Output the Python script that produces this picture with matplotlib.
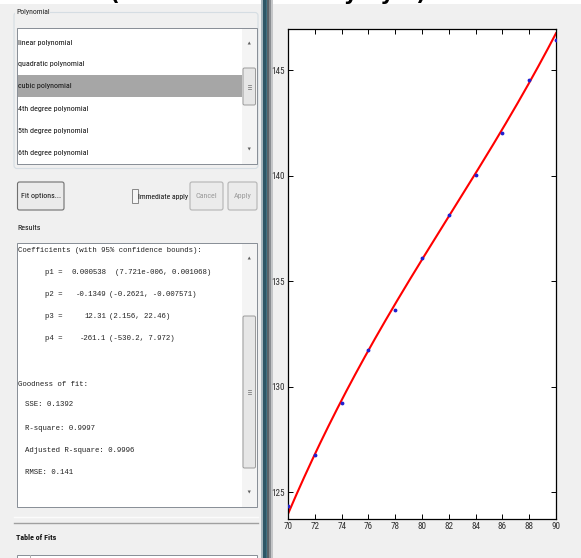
import os
import numpy as np
import matplotlib
matplotlib.use("Agg")
import matplotlib.pyplot as plt
from matplotlib.patches import Rectangle, FancyBboxPatch, Polygon
from matplotlib.font_manager import FontProperties, fontManager

# ---------------- data ----------------
years = [70, 72, 74, 76, 78, 80, 82, 84, 86, 88, 90]
values = [124.35, 126.77, 129.20, 131.72, 133.62, 136.10, 138.14, 140.02, 142.04, 144.53, 146.42]
fit_x = [70, 72, 74, 76, 78, 80, 82, 84, 86, 88, 90]
fit_y = [124.0, 126.75, 129.3, 131.75, 133.85, 136.12, 138.15, 140.05, 142.1, 144.45, 146.76]
x_ticks = [70, 72, 74, 76, 78, 80, 82, 84, 86, 88, 90]
y_ticks = [125, 130, 135, 140, 145]

fit_types = ["linear polynomial", "quadratic polynomial", "cubic polynomial",
             "4th degree polynomial", "5th degree polynomial", "6th degree polynomial"]
selected_fit = "cubic polynomial"
coef_header = "Coefficients (with 95% confidence bounds):"
coef_names = ["p1 =", "p2 =", "p3 =", "p4 ="]
coef_values = ["0.000538", "-0.1349", "12.31", "-261.1"]
coef_bounds = ["(7.721e-006, 0.001068)", "(-0.2621, -0.007571)", "(2.156, 22.46)", "(-530.2, 7.972)"]
gof_header = "Goodness of fit:"
gof_lines = ["SSE: 0.1392", "R-square: 0.9997", "Adjusted R-square: 0.9996", "RMSE: 0.141"]

# ---------------- fonts ----------------
_files = [f.fname for f in fontManager.ttflist]

def pick(names):
    for n in names:
        for fn in _files:
            if os.path.basename(fn).lower() == n.lower():
                return fn
    return None

ui_path = pick(["LiberationSansNarrow-Regular.ttf", "NotoSans-ExtraCondensed.ttf",
                "NotoSans-Condensed.ttf", "RobotoCondensed-Regular.ttf",
                "DejaVuSansCondensed.ttf", "NotoSans-SemiCondensed.ttf"])
ui_bold_path = pick(["LiberationSansNarrow-Bold.ttf", "NotoSans-ExtraCondensedBold.ttf",
                     "NotoSans-CondensedBold.ttf", "RobotoCondensed-Bold.ttf",
                     "DejaVuSansCondensed-Bold.ttf"])
mono_path = pick(["NotoSansMono-ExtraCondensed.ttf", "NotoSansMono-Condensed.ttf",
                  "NotoSansMono-SemiCondensed.ttf", "LiberationMono-Regular.ttf",
                  "DejaVuSansMono.ttf"])

def make_fp(path, size, fallback_family="DejaVu Sans", bold=False):
    if path:
        fp = FontProperties(fname=path)
    else:
        fp = FontProperties(family=fallback_family, weight="bold" if bold else "normal")
    fp.set_size(size)
    return fp

W, H = 581, 558
fig = plt.figure(figsize=(W / 100, H / 100), dpi=100)
fig.patch.set_facecolor("#f0f0f0")
renderer = fig.canvas.get_renderer()

def width_at(fp, s, size):
    f2 = fp.copy()
    f2.set_size(size)
    t = fig.text(0, 0, s, fontproperties=f2)
    w = t.get_window_extent(renderer).width
    t.remove()
    return w

def fit_size(fp, s, target_w, lo, hi):
    w = width_at(fp, s, 10.0)
    return float(np.clip(10.0 * target_w / w, lo, hi))

UI = make_fp(ui_path, 10)
UIB = make_fp(ui_bold_path, 10, bold=True)
MONO = make_fp(mono_path, 10, fallback_family="DejaVu Sans Mono")

ui_size = fit_size(UI, "4th degree polynomial", 61, 5.8, 7.6)
mono_size = fit_size(MONO, coef_header, 172, 5.3, 7.2)

def sized(fp, size):
    f2 = fp.copy()
    f2.set_size(size)
    return f2

bg = fig.add_axes([0, 0, 1, 1])
bg.set_xlim(0, W)
bg.set_ylim(H, 0)
bg.axis("off")

def rect(x0, y0, x1, y1, fc, ec="none", lw=0.72, z=1):
    bg.add_patch(Rectangle((x0, y0), x1 - x0, y1 - y0, facecolor=fc, edgecolor=ec, linewidth=lw, zorder=z))

def button(x0, y0, x1, y1, ec):
    bg.add_patch(FancyBboxPatch((x0, y0), x1 - x0, y1 - y0,
                                boxstyle="round,pad=0,rounding_size=2",
                                facecolor="#ebebeb", edgecolor=ec, linewidth=0.8, zorder=2))

def scrollbar(x0, x1, y0, y1, ty0, ty1):
    rect(x0, y0, x1, y1, "#f4f4f4", z=2)
    cx = (x0 + x1) / 2
    bg.add_patch(Polygon([[cx - 1.6, y0 + 16], [cx + 1.6, y0 + 16], [cx, y0 + 13]], closed=True,
                         facecolor="#606060", edgecolor="none", zorder=3))
    bg.add_patch(Polygon([[cx - 1.6, y1 - 16], [cx + 1.6, y1 - 16], [cx, y1 - 13]], closed=True,
                         facecolor="#606060", edgecolor="none", zorder=3))
    bg.add_patch(FancyBboxPatch((x0 + 1, ty0), x1 - x0 - 2, ty1 - ty0,
                                boxstyle="round,pad=0,rounding_size=1.5",
                                facecolor="#e6e6e6", edgecolor="#9a9a9a", linewidth=0.7, zorder=3))
    cy = (ty0 + ty1) / 2
    for d in (-2, 0, 2):
        bg.plot([cx - 1.5, cx + 1.5], [cy + d, cy + d], color="#808080", lw=0.6, zorder=4)

def label(x, y, s, target_w=None, color="#111111", ha="left", bold=False):
    base = UIB if bold else UI
    size = ui_size
    if target_w is not None:
        size = min(ui_size, fit_size(base, s, target_w, 4.0, 9.0))
    bg.text(x, y, s, fontproperties=sized(base, size), color=color, ha=ha, va="center", zorder=3)

# top white strip with cut-off title
rect(0, 0, W, 4, "white", z=1)
bg.text(110, 0.5, "(Cubic fit of the fully by 5)", fontsize=15.3, fontweight="bold",
        color="black", ha="left", va="baseline", zorder=5, family="DejaVu Sans")

# ---- left panel ----
bg.add_patch(FancyBboxPatch((14, 12.5), 244, 156, boxstyle="round,pad=0,rounding_size=3",
                            facecolor="none", edgecolor="#d5dde3", linewidth=0.8, zorder=1))
bg.text(16, 12, "Polynomial", fontproperties=sized(UI, min(ui_size, fit_size(UI, "Polynomial", 34, 4, 9))),
        color="#222222", ha="left", va="center", zorder=3,
        bbox=dict(facecolor="#f0f0f0", edgecolor="none", pad=0.5))

rect(17, 28, 257, 164, "white", ec="#8a9098", z=1)
row_y = [42.5, 64, 86, 108.5, 131, 153.5]
for name, yy in zip(fit_types, row_y):
    if name == selected_fit:
        rect(17.5, 74.5, 242, 97, "#a6a6a6", z=2)
    label(18.5, yy, name)
scrollbar(242, 256.5, 28.5, 163.5, 68, 105)

button(17.5, 182, 64, 210, "#707070")
label(40.7, 196, "Fit options...", target_w=40, ha="center")
rect(132, 189, 137.5, 203, "#f6f6f6", ec="#8a8a8a", z=2)
label(138.5, 196.5, "Immediate apply", target_w=50)
button(190, 182, 223, 210, "#b4b4b4")
label(206.5, 196, "Cancel", target_w=24, color="#9a9a9a", ha="center")
button(228, 182, 257, 210, "#b4b4b4")
label(242.5, 196, "Apply", target_w=22, color="#9a9a9a", ha="center")

label(17, 228, "Results", target_w=26)

rect(17, 243, 257, 507, "white", ec="#8a9098", z=1)
scrollbar(242, 256.5, 243.5, 506.5, 316, 468)
mfp = sized(MONO, mono_size)
tc = "#222222"
bg.text(18, 250, coef_header, fontproperties=mfp, color=tc, ha="left", va="center", zorder=3)
coef_y = [272, 294, 316, 338]
for i, (nm, v, b, yy) in enumerate(zip(coef_names, coef_values, coef_bounds, coef_y)):
    bg.text(45, yy, nm, fontproperties=mfp, color=tc, ha="left", va="center", zorder=3)
    bg.text(106, yy, v, fontproperties=mfp, color=tc, ha="right", va="center", zorder=3)
    bg.text(115 if i == 0 else 109, yy, b, fontproperties=mfp, color=tc, ha="left", va="center", zorder=3)
bg.text(18, 384, gof_header, fontproperties=mfp, color=tc, ha="left", va="center", zorder=3)
for line, yy in zip(gof_lines, [405, 428, 450, 472]):
    bg.text(25, yy, line, fontproperties=mfp, color=tc, ha="left", va="center", zorder=3)

bg.plot([14, 258], [517, 517], color="#fbfbfb", lw=1.0, zorder=2)
bg.plot([14, 258], [523, 523], color="#a0a0a0", lw=1.0, zorder=2)
label(16, 537, "Table of Fits", target_w=40, bold=True)
rect(17, 555, 257, 562, "white", ec="#8a9098", z=1)
bg.plot([30, 30], [555, 558], color="#b0b0b0", lw=0.7, zorder=2)

# divider
rect(261, 0, 263, H, "#a4b4bc", z=4)
rect(263, 0, 265.5, H, "#2d5666", z=4)
rect(265.5, 0, 267, H, "#3f7080", z=4)
rect(267, 0, 269, H, "#5a6268", z=4)
rect(269, 0, 271, H, "#8a8e92", z=4)
rect(271, 0, 273, H, "#c4c6c8", z=4)

# ---------------- plot axes ----------------
ax = fig.add_axes([288 / W, 1 - 519 / H, 268 / W, 490 / H])
ax.set_facecolor("white")
xs = np.linspace(min(fit_x), max(fit_x), 300)
ax.plot(xs, np.polyval(np.polyfit(fit_x, fit_y, 3), xs), color="#ff0000", lw=1.5, zorder=2)
ax.plot(years, values, linestyle="none", marker=".", markersize=3.5, color="#2020d0", zorder=3)
ax.set_xlim(70, 90)
ax.set_ylim(123.72, 146.95)
ax.set_xticks(x_ticks)
ax.set_yticks(y_ticks)
ax.set_xticklabels([str(t) for t in x_ticks])
ax.set_yticklabels([str(t) for t in y_ticks])
tick_size = fit_size(UI, "145", 13, 6.6, 8.0)
ax.tick_params(direction="in", length=3.5, width=0.7, top=True, right=True, colors="black",
               labelcolor="#303030", pad=2.5)
for lab in ax.get_xticklabels() + ax.get_yticklabels():
    lab.set_fontproperties(sized(UI, tick_size))
for s in ax.spines.values():
    s.set_linewidth(0.9)
    s.set_color("black")

fig.savefig("out.png", dpi=100, facecolor=fig.get_facecolor())
